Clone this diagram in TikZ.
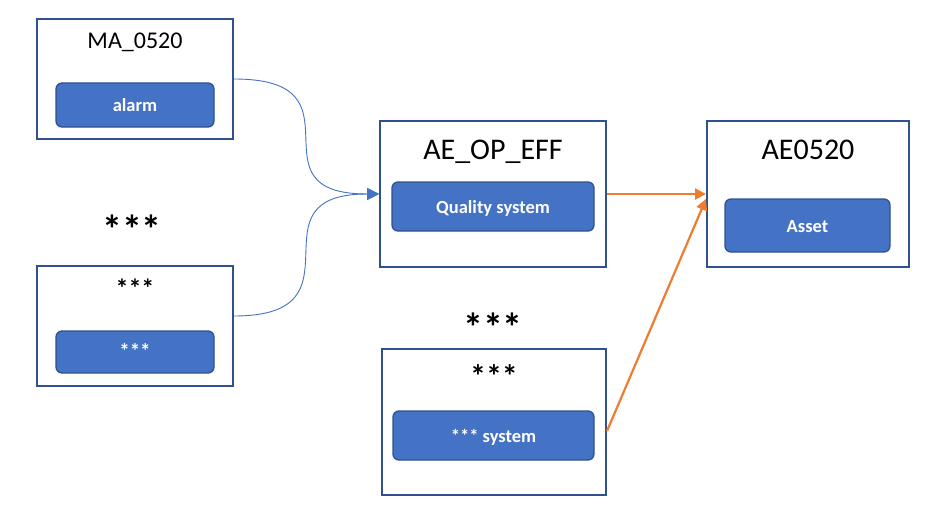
\documentclass[tikz,border=0pt]{standalone}
\usepackage{fontspec}
\setmainfont{Carlito}
\usetikzlibrary{arrows.meta,calc}
\definecolor{boxline}{HTML}{2F528F}
\definecolor{btnfill}{HTML}{4472C4}
\definecolor{orng}{HTML}{ED7D31}
\tikzset{
  outerbox/.style={draw=boxline,line width=2pt,fill=white,rectangle,inner sep=0pt},
  btn/.style={draw=boxline,line width=1.3pt,fill=btnfill,rounded corners=6pt,inner sep=0pt,text=white,font=\fontsize{18}{20}\selectfont},
  ttl/.style={inner sep=0pt,anchor=base,font=\fontsize{#1}{#1}\selectfont},
  btntxt/.style={inner sep=0pt,anchor=base,text=white,font=\bfseries\fontsize{18.5}{19}\selectfont},
  star/.style={inner sep=0pt,font=\bfseries\fontsize{#1}{#1}\selectfont},
  blueconn/.style={draw=btnfill,line width=0.9pt,-{Triangle[length=12pt,width=12pt]}},
  orconn/.style={draw=orng,line width=2.2pt,-{Triangle[length=11pt,width=11pt]}},
}
\begin{document}
\begin{tikzpicture}[x=1pt,y=-1pt]
\useasboundingbox[fill=white] (0,0) rectangle (952,508);
% boxes
\node[outerbox,minimum width=196pt,minimum height=120pt] (A) at (135,79) {};
\node[outerbox,minimum width=196pt,minimum height=120pt] (B) at (135,326) {};
\node[outerbox,minimum width=226pt,minimum height=146pt] (C) at (493,194) {};
\node[outerbox,minimum width=202pt,minimum height=146pt] (D) at (808,194) {};
\node[outerbox,minimum width=224pt,minimum height=146pt] (E) at (494,422) {};
% buttons
\node[btn,minimum width=158pt,minimum height=44pt] (Ab) at (135,105) {};
\node[btn,minimum width=158pt,minimum height=42pt] (Bb) at (135,352) {};
\node[btn,minimum width=202pt,minimum height=49pt] (Cb) at (493,206.5) {};
\node[btn,minimum width=165pt,minimum height=53pt] (Db) at (807.5,225.5) {};
\node[btn,minimum width=201pt,minimum height=49pt] (Eb) at (493.5,435.5) {};
% button texts
\node[btntxt] (At) at (135,111) {alarm};
\node[star=21,text=white] (Bt) at (135,351) {***};
\node[btntxt] (Ct) at (493,213) {Quality system};
\node[btntxt] (Dt) at (807.5,232) {Asset};
\node[btntxt] (Et) at (493.5,442) {***\ system};
% titles
\node[ttl=24] (Atl) at (135,49) {MA\_0520};
\node[ttl=30] (Ctl) at (493,159) {AE\_OP\_EFF};
\node[ttl=30] (Dtl) at (808,159) {AE0520};
\node[star=26] (Btl) at (135,288) {***};
\node[star=32] (Etl) at (494,376) {***};
\node[star=40] (S1) at (132,229) {***};
\node[star=40] (S2) at (493,327) {***};
% connectors
\coordinate (bout) at ($(B.east)+(0,-10)$);
\coordinate (eout) at ($(E.east)+(0,9)$);
\coordinate (din) at ($(D.west)+(0,5)$);
\draw[blueconn] (A.east) .. controls (370,79) and (245,194) .. (C.west);
\draw[blueconn] (bout) .. controls (370,316) and (245,194) .. (C.west);
\draw[orconn] (C.east) -- (D.west);
\draw[orconn] (eout) -- (din);
\end{tikzpicture}
\end{document}
